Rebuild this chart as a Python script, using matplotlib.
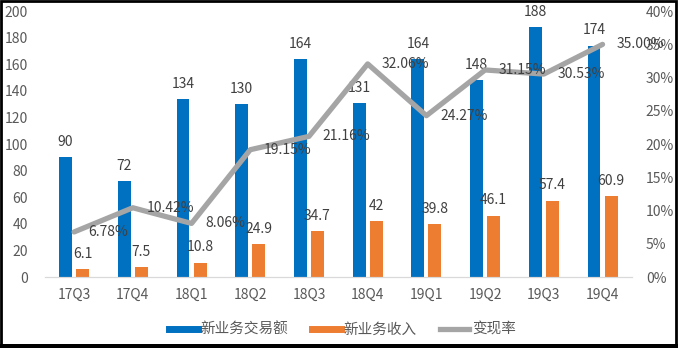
import matplotlib.pyplot as plt
from matplotlib.lines import Line2D
from matplotlib.patches import Rectangle
import numpy as np

plt.rcParams['font.family'] = ['Noto Sans CJK SC', 'DejaVu Sans']

# Data
# ------------------------------------------------------------------------
quarters = ['17Q3', '17Q4', '18Q1', '18Q2', '18Q3', '18Q4', '19Q1', '19Q2', '19Q3', '19Q4']
volume = [90, 72, 134, 130, 164, 131, 164, 148, 188, 174]
revenue = [6.1, 7.5, 10.8, 24.9, 34.7, 42, 39.8, 46.1, 57.4, 60.9]
rate = [6.78, 10.42, 8.06, 19.15, 21.16, 32.06, 24.27, 31.15, 30.53, 35.00]

blue = '#0070C0'
orange = '#ED7D31'
gray = '#A5A5A5'
txt = '#404040'

# Plot
# ------------------------------------------------------------------------
fig = plt.figure(figsize=(6.78, 3.48), dpi=100)
ax = fig.add_axes([0.066, 0.204, 0.866, 0.764])
ax2 = ax.twinx()

x = np.arange(len(quarters))
w = 0.22
ax.bar(x - 0.145, volume, w, color=blue)
ax.bar(x + 0.145, revenue, w, color=orange)

for xi, v in zip(x, volume):
    ax.annotate(f'{v:g}', (xi - 0.145, v), xytext=(0, 6), textcoords='offset points',
                ha='center', va='bottom', fontsize=10, color=txt)
for xi, v in zip(x, revenue):
    ax.annotate(f'{v:g}', (xi + 0.145, v), xytext=(0, 6), textcoords='offset points',
                ha='center', va='bottom', fontsize=10, color=txt)

ax2.plot(x, rate, color=gray, lw=3.8, solid_capstyle='round')
for xi, r in zip(x, rate):
    ax2.annotate(f'{r:.2f}%', (xi, r), xytext=(10, 0), textcoords='offset points',
                 ha='left', va='center', fontsize=10, color=txt)

ax.set_xlim(-0.5, len(quarters) - 0.5)
ax.set_ylim(0, 200)
ax.set_yticks(range(0, 201, 20))
ax2.set_ylim(0, 40)
ax2.set_yticks(range(0, 41, 5))
ax2.set_yticklabels([f'{t}%' for t in range(0, 41, 5)])
ax.set_xticks(x)
ax.set_xticklabels(quarters)

for a in (ax, ax2):
    for s in ('top', 'left', 'right'):
        a.spines[s].set_visible(False)
    a.spines['bottom'].set_color('#D9D9D9')
    a.tick_params(length=0, labelsize=10, colors='#595959')
ax.tick_params(axis='x', pad=8)
ax.tick_params(axis='y', pad=12)
ax2.tick_params(axis='y', pad=10)

handles = [Line2D([], [], color=blue, lw=5), Line2D([], [], color=orange, lw=5),
           Line2D([], [], color=gray, lw=3.8)]
fig.legend(handles, ['新业务交易额', '新业务收入', '变现率'], loc='center',
           bbox_to_anchor=(0.505, 0.052), ncol=3, frameon=False, fontsize=10.5,
           handlelength=2.0, handletextpad=0.2, columnspacing=1.6, labelcolor='#595959')

fig.patches.append(Rectangle((0.001, 0.006), 0.996, 0.992, transform=fig.transFigure,
                             fill=False, edgecolor='black', lw=2))
fig.patches.append(Rectangle((0, 0), 1, 0.012, transform=fig.transFigure,
                             color='black', lw=0))

plt.savefig('out.png', dpi=100)
